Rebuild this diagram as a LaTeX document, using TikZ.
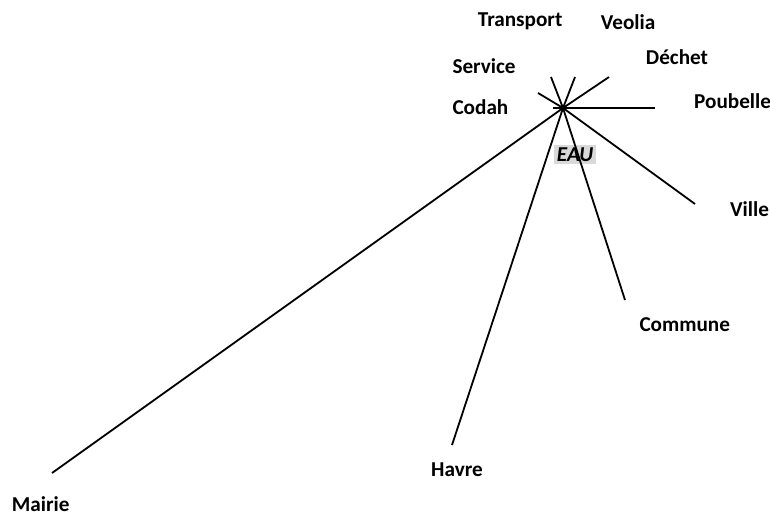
\documentclass[tikz,border=0pt]{standalone}
\usepackage{fontspec}
\setmainfont{Carlito}
\usepackage{tikz}

\begin{document}
\begin{tikzpicture}[x=1pt,y=-1pt]
            \useasboundingbox (0,0) rectangle (770,516);
            \coordinate (hub) at (563,108);

            \coordinate (t) at (551,77);
            \coordinate (v) at (575,77);
            \coordinate (s) at (538,93);
            \coordinate (d) at (609,77);
            \coordinate (c) at (553,108);
            \coordinate (p) at (655,108);
            \coordinate (vi) at (695,204);
            \coordinate (co) at (625,300);
            \coordinate (h) at (452,445);
            \coordinate (m) at (52,473);

            \begin{scope}[every node/.style={font=\fontsize{21.2}{25}\selectfont\bfseries, inner sep=0pt, anchor=base west}]
                \node (transport) at (477.7,26.7) {Transport};
                \node (veolia) at (600.7,29.3) {Veolia};
                \node (service) at (452.3,74) {Service};
                \node (dechet) at (645.7,65) {Déchet};
                \node (codah) at (452.3,114) {Codah};
                \node (poubelle) at (694,109) {Poubelle};
                \node (ville) at (730,216.7) {Ville};
                \node (commune) at (639.3,331.7) {Commune};
                \node (havre) at (431,476) {Havre};
                \node (mairie) at (11.7,511.5) {Mairie};

                \node[fill=black!15, inner sep=2.5pt, anchor=center, font=\fontsize{21.2}{25}\selectfont\bfseries\itshape] (eau) at (575,154.5) {EAU};
            \end{scope}
            \begin{scope}[every edge/.style={draw, line width=1.8pt}]
                \path [-] (hub) edge (t);
                \path [-] (hub) edge (v);
                \path [-] (hub) edge (s);
                \path [-] (hub) edge (d);
                \path [-] (hub) edge (c);
                \path [-] (hub) edge (p);

                \path [-] (hub) edge (vi);
                \path [-] (hub) edge (co);
                \path [-] (hub) edge (h);
                \path [-] (hub) edge (m);
            \end{scope}
        \end{tikzpicture}
\end{document}
